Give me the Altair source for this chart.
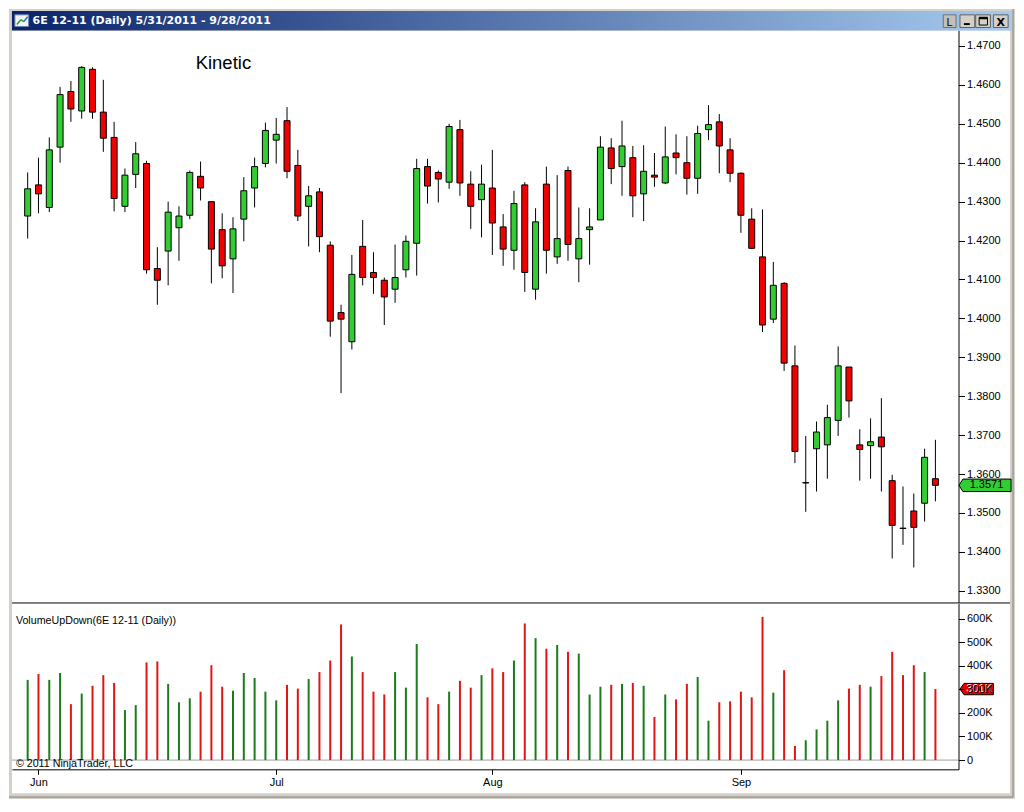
import altair as alt
import pandas as pd

# ---------------- data ----------------
opens = [1.4263, 1.4343, 1.4285, 1.4440, 1.4583, 1.4533, 1.4640, 1.4530, 1.4465, 1.4288,
         1.4370, 1.4398, 1.4128, 1.4173, 1.4233, 1.4265, 1.4365, 1.4300, 1.4228, 1.4153,
         1.4255, 1.4335, 1.4398, 1.4458, 1.4508, 1.4393, 1.4288, 1.4325, 1.4188, 1.4015,
         1.3940, 1.4185, 1.4118, 1.4098, 1.4075, 1.4125, 1.4193, 1.4390, 1.4375, 1.4350,
         1.4485, 1.4345, 1.4305, 1.4335, 1.4235, 1.4175, 1.4343, 1.4075, 1.4345, 1.4158,
         1.4380, 1.4153, 1.4228, 1.4253, 1.4438, 1.4390, 1.4413, 1.4320, 1.4368, 1.4348,
         1.4425, 1.4400, 1.4360, 1.4485, 1.4505, 1.4433, 1.4373, 1.4255, 1.4158, 1.3998,
         1.4090, 1.3878, 1.3577, 1.3665, 1.3675, 1.3738, 1.3875, 1.3675, 1.3673, 1.3695,
         1.3583, 1.3461, 1.3505, 1.3525, 1.3588]
highs = [1.4375, 1.4413, 1.4465, 1.4595, 1.4610, 1.4648, 1.4645, 1.4613, 1.4505, 1.4385,
         1.4453, 1.4405, 1.4183, 1.4300, 1.4288, 1.4380, 1.4403, 1.4300, 1.4270, 1.4260,
         1.4363, 1.4413, 1.4503, 1.4515, 1.4543, 1.4433, 1.4340, 1.4335, 1.4198, 1.4035,
         1.4163, 1.4253, 1.4170, 1.4105, 1.4190, 1.4213, 1.4410, 1.4410, 1.4380, 1.4500,
         1.4510, 1.4378, 1.4395, 1.4433, 1.4268, 1.4328, 1.4350, 1.4283, 1.4390, 1.4368,
         1.4390, 1.4285, 1.4283, 1.4468, 1.4463, 1.4508, 1.4443, 1.4445, 1.4425, 1.4493,
         1.4473, 1.4468, 1.4495, 1.4548, 1.4525, 1.4463, 1.4375, 1.4283, 1.4280, 1.4145,
         1.4093, 1.3930, 1.3698, 1.3735, 1.3778, 1.3928, 1.3875, 1.3715, 1.3743, 1.3795,
         1.3598, 1.3568, 1.3550, 1.3665, 1.3688]
lows = [1.4205, 1.4270, 1.4273, 1.4400, 1.4505, 1.4513, 1.4513, 1.4428, 1.4275, 1.4273,
        1.4335, 1.4115, 1.4035, 1.4085, 1.4148, 1.4255, 1.4303, 1.4090, 1.4103, 1.4065,
        1.4198, 1.4285, 1.4388, 1.4398, 1.4360, 1.4250, 1.4185, 1.4170, 1.3953, 1.3808,
        1.3920, 1.4085, 1.4063, 1.3983, 1.4040, 1.4105, 1.4110, 1.4295, 1.4298, 1.4333,
        1.4315, 1.4230, 1.4208, 1.4163, 1.4135, 1.4125, 1.4068, 1.4048, 1.4115, 1.4140,
        1.4148, 1.4093, 1.4138, 1.4253, 1.4345, 1.4315, 1.4260, 1.4250, 1.4338, 1.4345,
        1.4370, 1.4318, 1.4320, 1.4458, 1.4373, 1.4350, 1.4220, 1.4178, 1.3965, 1.3988,
        1.3865, 1.3628, 1.3503, 1.3555, 1.3588, 1.3698, 1.3745, 1.3583, 1.3588, 1.3555,
        1.3383, 1.3418, 1.3360, 1.3478, 1.3530]
closes = [1.4333, 1.4320, 1.4433, 1.4575, 1.4538, 1.4645, 1.4530, 1.4463, 1.4308, 1.4368,
          1.4423, 1.4125, 1.4098, 1.4273, 1.4263, 1.4375, 1.4335, 1.4178, 1.4135, 1.4230,
          1.4328, 1.4390, 1.4483, 1.4473, 1.4378, 1.4263, 1.4315, 1.4210, 1.3993, 1.3998,
          1.4113, 1.4105, 1.4105, 1.4055, 1.4105, 1.4198, 1.4385, 1.4340, 1.4358, 1.4493,
          1.4348, 1.4288, 1.4345, 1.4245, 1.4178, 1.4295, 1.4118, 1.4248, 1.4175, 1.4205,
          1.4190, 1.4205, 1.4235, 1.4440, 1.4385, 1.4443, 1.4315, 1.4378, 1.4363, 1.4415,
          1.4413, 1.4360, 1.4475, 1.4498, 1.4443, 1.4373, 1.4265, 1.4180, 1.3983, 1.4085,
          1.3885, 1.3658, 1.3578, 1.3708, 1.3745, 1.3878, 1.3788, 1.3663, 1.3683, 1.3670,
          1.3468, 1.3460, 1.3463, 1.3643, 1.3571]
volumes = [340000, 365000, 340000, 369000, 237000, 282000, 315000, 360000, 327000, 212000,
           233000, 414000, 418000, 323000, 245000, 262000, 290000, 402000, 311000, 294000,
           369000, 348000, 290000, 253000, 319000, 303000, 344000, 373000, 422000, 575000,
           439000, 373000, 290000, 278000, 373000, 307000, 492000, 266000, 237000, 290000,
           336000, 307000, 360000, 389000, 373000, 422000, 579000, 517000, 472000, 488000,
           459000, 451000, 278000, 311000, 319000, 323000, 327000, 315000, 183000, 278000,
           257000, 323000, 352000, 167000, 245000, 249000, 290000, 266000, 607000, 286000,
           381000, 60000, 84000, 130000, 167000, 253000, 303000, 319000, 311000, 356000,
           459000, 360000, 402000, 373000, 301000]

month_labels = ["Jun", "Jul", "Aug", "Sep"]
month_first_bar = [1, 23, 43, 66]
price_ticks = [1.33, 1.34, 1.35, 1.36, 1.37, 1.38, 1.39, 1.40,
               1.41, 1.42, 1.43, 1.44, 1.45, 1.46, 1.47]
volume_ticks = [0, 100000, 200000, 300000, 400000, 500000, 600000]

window_title = "6E 12-11 (Daily)  5/31/2011 - 9/28/2011"
chart_note = "Kinetic"
study_label = "VolumeUpDown(6E 12-11 (Daily))"
copyright_text = "\u00a9 2011 NinjaTrader, LLC"

# ---------------- layout: reference window geometry scaled to the page ----------------
SX = 1006 / 1024
SY = 790 / 812


def X(r):
    return round(r * SX, 2)


def Y(r):
    return round(r * SY, 2)


def bar_at(x):          # reference pixel x -> bar number
    return (x - 19) / 11


def price_at(y):        # reference pixel y -> price
    return 1.47 + (38 - y) * (0.14 / 560)


def vol_at(y):          # reference pixel y -> volume
    return (772 - y) * 600000 / 145.5


W = X(966.5)
H = Y(781.5)

UP_BODY, DOWN_BODY = "#32CD32", "#F00000"
UP_VOL, DOWN_VOL = "#1C7C1C", "#E01515"
FONT = "Liberation Sans"

n = len(closes)
df = pd.DataFrame({
    "i": list(range(n)),
    "open": opens, "high": highs, "low": lows, "close": closes,
    "vol": volumes,
})
df["up"] = df["close"] >= df["open"]
df["base"] = 0

last_df = pd.DataFrame({"price": [closes[-1]], "vol": [volumes[-1]],
                        "ptxt": [f"{closes[-1]:.4f}"],
                        "vtxt": [f"{round(volumes[-1] / 1000)}K"]})
one = pd.DataFrame({"k": [0]})

axis_style = dict(domainColor="black", tickColor="black", labelColor="black",
                  labelFont=FONT, labelFontSize=11, grid=False, title=None,
                  zindex=1, domainWidth=1, tickWidth=1)

label_expr_x = "[" + ",".join(f"'{m}'" for m in month_labels) + "][indexof([" + \
    ",".join(str(v) for v in month_first_bar) + "], datum.value)]"

x_enc = alt.X("i:Q",
              scale=alt.Scale(domain=[bar_at(3), bar_at(966.5)], range=[X(3), W],
                              nice=False, zero=False, padding=0),
              axis=alt.Axis(orient="bottom", values=month_first_bar, labelExpr=label_expr_x,
                            tickSize=5, labelPadding=2, labelFlush=False, **axis_style))

p_scale = alt.Scale(domain=[price_at(610), price_at(22)], range=[Y(610), Y(22)],
                    nice=False, zero=False, padding=0)
v_scale = alt.Scale(domain=[vol_at(781.5), vol_at(611)], range=[Y(781.5), Y(611)],
                    nice=False, zero=False, padding=0)

price_axis = alt.Axis(orient="right", values=price_ticks, format=".4f",
                      tickSize=6, labelPadding=2, **axis_style)
vol_axis = alt.Axis(orient="right", values=volume_ticks,
                    labelExpr="datum.value == 0 ? '0' : format(datum.value / 1000, 'd') + 'K'",
                    tickSize=6, labelPadding=2, **axis_style)


def box(x0, y0, x1, y1, **mk):
    return alt.Chart(one).mark_rect(**mk).encode(
        x=alt.value(X(x0)), x2=alt.value(X(x1)), y=alt.value(Y(y0)), y2=alt.value(Y(y1)))


def seg(x0, y0, x1, y1, **mk):
    return alt.Chart(one).mark_rule(**mk).encode(
        x=alt.value(X(x0)), x2=alt.value(X(x1)), y=alt.value(Y(y0)), y2=alt.value(Y(y1)))


def label(txt, x, y, **mk):
    return alt.Chart(one).mark_text(text=txt, **mk).encode(x=alt.value(X(x)), y=alt.value(Y(y)))


gradient = {"gradient": "linear", "x1": 0, "y1": 0, "x2": 1, "y2": 0,
            "stops": [{"offset": 0, "color": "#0A246A"}, {"offset": 1, "color": "#A6CAF0"}]}

frame_layers = [
    box(0, 0, 1024, 812, color="#D4D0C8"),
    box(3, 22, 1019, 806, color="white"),
    seg(1022, 0, 1022, 810, color="#808080", strokeWidth=1),
    seg(0, 810, 1022, 810, color="#808080", strokeWidth=1),
    box(3, 2, 1021, 22, fill=gradient),
    # title bar icon
    box(6, 6, 20, 18, fill="#F2F4F8", stroke="#6A7FB5", strokeWidth=1),
    seg(8, 16, 12, 11, color="#2AA02A", strokeWidth=1.5),
    seg(12, 11, 15, 13, color="#2AA02A", strokeWidth=1.5),
    seg(15, 13, 19, 8, color="#2A6AD0", strokeWidth=1.5),
    label(window_title, 24, 12.5, color="white", font="DejaVu Sans", fontSize=11,
          fontWeight="bold", align="left", baseline="middle"),
    # window buttons
    box(951, 6, 964, 19, fill="#C4C0B8", stroke="#707070", strokeWidth=1),
    label("L", 957.5, 17, color="black", font=FONT, fontSize=11, align="center",
          baseline="alphabetic"),
    box(968, 6, 983, 19, fill="#D4D0C8", stroke="#606060", strokeWidth=1),
    box(972, 14.5, 978, 16.5, color="black"),
    box(984, 6, 999, 19, fill="#D4D0C8", stroke="#606060", strokeWidth=1),
    box(987.5, 8.5, 996, 16.5, fill="#D4D0C8", stroke="black", strokeWidth=1),
    box(987.5, 8.5, 996, 10.5, color="black"),
    box(1002, 6, 1017, 19, fill="#D4D0C8", stroke="#606060", strokeWidth=1),
    label("X", 1009.5, 17, color="black", font="DejaVu Sans", fontSize=11,
          fontWeight="bold", align="center", baseline="alphabetic"),
    # panel separator
    seg(3, 610.5, 1019, 610.5, color="black", strokeWidth=1),
    # texts
    label(chart_note, 190, 61.5, color="black", font=FONT, fontSize=18.5,
          align="left", baseline="alphabetic"),
    label(study_label, 7, 632.5, color="black", font=FONT, fontSize=10.7,
          align="left", baseline="alphabetic"),
]

base = alt.Chart(df)

wicks = base.mark_rule(color="black", strokeWidth=1).encode(
    x=x_enc, y=alt.Y("low:Q", scale=p_scale, axis=None), y2="high:Q")

bodies = base.mark_bar(size=6, stroke="black", strokeWidth=1).encode(
    x=x_enc, y=alt.Y("open:Q", scale=p_scale, axis=price_axis), y2="close:Q",
    color=alt.condition("datum.up", alt.value(UP_BODY), alt.value(DOWN_BODY)))

zero_line = alt.Chart(one).mark_rule(color="#A0A0A0", strokeWidth=1).encode(
    x=alt.value(X(3)), x2=alt.value(W), y=alt.Y("k:Q", scale=v_scale, axis=None))

vol_bars = base.mark_bar(size=2).encode(
    x=x_enc, y=alt.Y("vol:Q", scale=v_scale, axis=vol_axis), y2="base:Q",
    color=alt.condition("datum.up", alt.value(UP_VOL), alt.value(DOWN_VOL)))

copyright_layer = label(copyright_text, 7, 779, color="black", font=FONT, fontSize=10.7,
                        align="left", baseline="alphabetic")

price_flag = alt.Chart(last_df).mark_point(
    shape="M -1 0 L -0.85 -0.24 L 1 -0.24 L 1 0.24 L -0.85 0.24 Z",
    size=(53 * SX) ** 2, filled=True, fill=UP_BODY, stroke="black", strokeWidth=1,
    opacity=1).encode(x=alt.value(X(993.5)), y=alt.Y("price:Q", scale=p_scale, axis=None))
price_flag_text = alt.Chart(last_df).mark_text(
    color="black", font=FONT, fontSize=11, align="center", baseline="middle").encode(
    x=alt.value(X(995)), y=alt.Y("price:Q", scale=p_scale, axis=None), text="ptxt:N")

vol_flag = alt.Chart(last_df).mark_point(
    shape="M -1 0 L -0.76 -0.34 L 1 -0.34 L 1 0.34 L -0.76 0.34 Z",
    size=(34 * SX) ** 2, filled=True, fill="#E80000", stroke="black", strokeWidth=1,
    opacity=1).encode(x=alt.value(X(985)), y=alt.Y("vol:Q", scale=v_scale, axis=None))
vol_flag_text = alt.Chart(last_df).mark_text(
    color="white", font=FONT, fontSize=11, align="center", baseline="middle").encode(
    x=alt.value(X(987.5)), y=alt.Y("vol:Q", scale=v_scale, axis=None), text="vtxt:N")

chart = alt.layer(
    *frame_layers,
    wicks, bodies,
    zero_line, vol_bars, copyright_layer,
    price_flag, price_flag_text, vol_flag, vol_flag_text,
).resolve_scale(y="independent").properties(
    width=W, height=H, padding=0
).configure_view(strokeWidth=0)

chart.save("out.html", embed_options={"renderer": "svg", "actions": False})
